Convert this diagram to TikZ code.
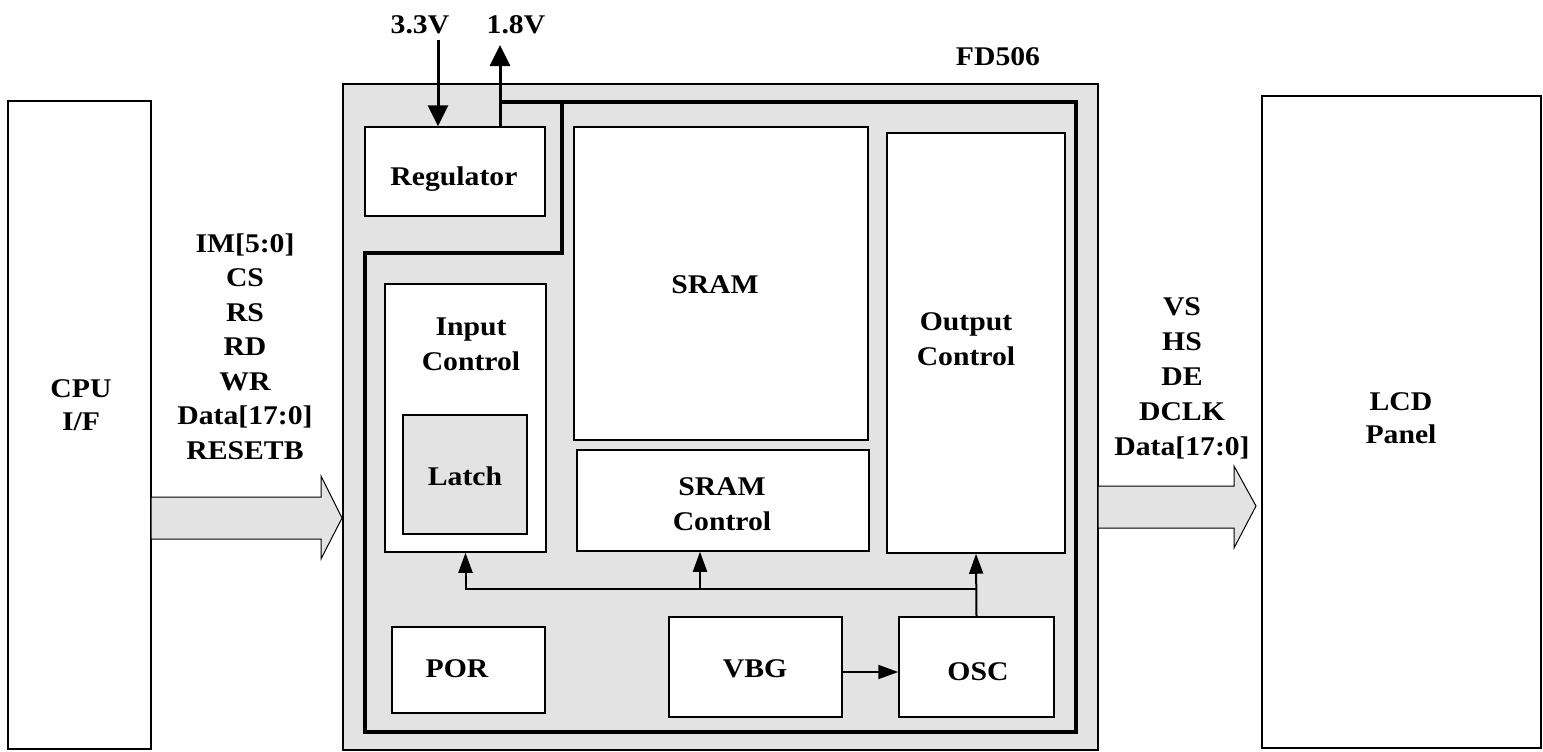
\documentclass[tikz,border=0pt]{standalone}
\usepackage{fontspec}
\setmainfont{Liberation Serif}[FakeStretch=1.1]
\usepackage{tikz}
\usetikzlibrary{arrows.meta, positioning, calc}

\definecolor{chipgray}{HTML}{E3E3E3}

\tikzset{
  blk/.style={draw, fill=white, line width=0.75pt, inner sep=0pt},
  lbl/.style={font=\bfseries\fontsize{13.5}{16}\selectfont, anchor=base, inner sep=0pt},
  pwr/.style={line width=1.5pt, -{Triangle[length=10.5pt,width=10pt]}},
  sig/.style={line width=1pt, -{Triangle[length=10pt,width=7pt]}},
  rail/.style={line width=2pt},
  bigarrow/.style={draw, fill=chipgray, line width=0.5pt},
}

\begin{document}
\begin{tikzpicture}[x=0.5pt, y=-0.5pt]
\useasboundingbox (0,0) rectangle (1543,751);

% Host and panel
\node[blk, minimum width=71.5pt, minimum height=324pt] (cpu) at (79.5,425) {};
\node[blk, minimum width=139.5pt, minimum height=326pt] (lcd) at (1401.5,422) {};
\node[lbl] (cpuA) at (81,397) {CPU};
\node[lbl] (cpuB) at (81,430) {I/F};
\node[lbl] (lcdA) at (1401,410) {LCD};
\node[lbl] (lcdB) at (1401,443) {Panel};

% Chip body
\node[blk, fill=chipgray, minimum width=377.5pt, minimum height=333pt] (chip) at (720.5,417) {};
\node[lbl] (chipname) at (998,65) {FD506};

% Blocks inside the chip
\node[blk, minimum width=90pt, minimum height=44.5pt] (reg) at (455,171.5) {};
\node[blk, minimum width=147pt, minimum height=156.5pt] (sram) at (721,283.5) {};
\node[blk, minimum width=146pt, minimum height=50.5pt] (sramctl) at (723,500.5) {};
\node[blk, minimum width=89pt, minimum height=210pt] (outctl) at (976,343) {};
\node[blk, minimum width=80.5pt, minimum height=134pt] (inctl) at (465.5,418) {};
\node[blk, fill=chipgray, minimum width=62pt, minimum height=59.5pt] (latch) at (465,474.5) {};
\node[blk, minimum width=76.5pt, minimum height=43pt] (por) at (468.5,670) {};
\node[blk, minimum width=86.5pt, minimum height=50pt] (vbg) at (755.5,667) {};
\node[blk, minimum width=77.5pt, minimum height=50pt] (osc) at (976.5,667) {};

\node[lbl] (regtxt) at (454,185) {Regulator};
\node[lbl] (sramtxt) at (715,293) {SRAM};
\node[lbl] (sramctlA) at (722,495) {SRAM};
\node[lbl] (sramctlB) at (722,530) {Control};
\node[lbl] (outctlA) at (966,330) {Output};
\node[lbl] (outctlB) at (966,365) {Control};
\node[lbl] (inctlA) at (471,335) {Input};
\node[lbl] (inctlB) at (471,370) {Control};
\node[lbl] (latchtxt) at (465,485) {Latch};
\node[lbl] (portxt) at (457,677) {POR};
\node[lbl] (vbgtxt) at (755,677) {VBG};
\node[lbl] (osctxt) at (978,680) {OSC};

% Supply pins
\coordinate (v33) at (438,40);
\coordinate (v18) at (500,45);
\node[lbl] (v33txt) at (420,33) {3.3V};
\node[lbl] (v18txt) at (516,33) {1.8V};
\draw[pwr] (v33) -- (v33 |- reg.north);
\draw[pwr] (reg.north -| v18) -- (v18);

% 1.8V rail
\draw[rail] (500,102) -| (1076,732) -| (365,253) -| (562,102);

% Clock bus
\coordinate (bus) at (700,589);
\draw[sig] (osc.north) -- (outctl.south);
\draw[sig] (osc.north |- bus) -| (inctl.south);
\draw[sig] (bus) -- (bus |- sramctl.south);
\draw[sig] ([yshift=-2.5pt]vbg.east) -- ([yshift=-2.5pt]osc.west);

% Interface arrows
\draw[bigarrow] (151,497) -- (321,497) -- (321,476) -- (342,518) -- (321,559) -- (321,539) -- (151,539) -- cycle;
\draw[bigarrow] (1098,486) -- (1234,486) -- (1234,466) -- (1256,506) -- (1234,548) -- (1234,528) -- (1098,528) -- cycle;

% Signal names
\foreach \s [count=\i from 0] in {{IM[5:0]},CS,RS,RD,WR,{Data[17:0]},RESETB}
  \node[lbl] (insig\i) at (245,{252+34.5*\i}) {\s};
\foreach \s [count=\i from 0] in {VS,HS,DE,DCLK,{Data[17:0]}}
  \node[lbl] (outsig\i) at (1182,{315+35*\i}) {\s};
\end{tikzpicture}
\end{document}
